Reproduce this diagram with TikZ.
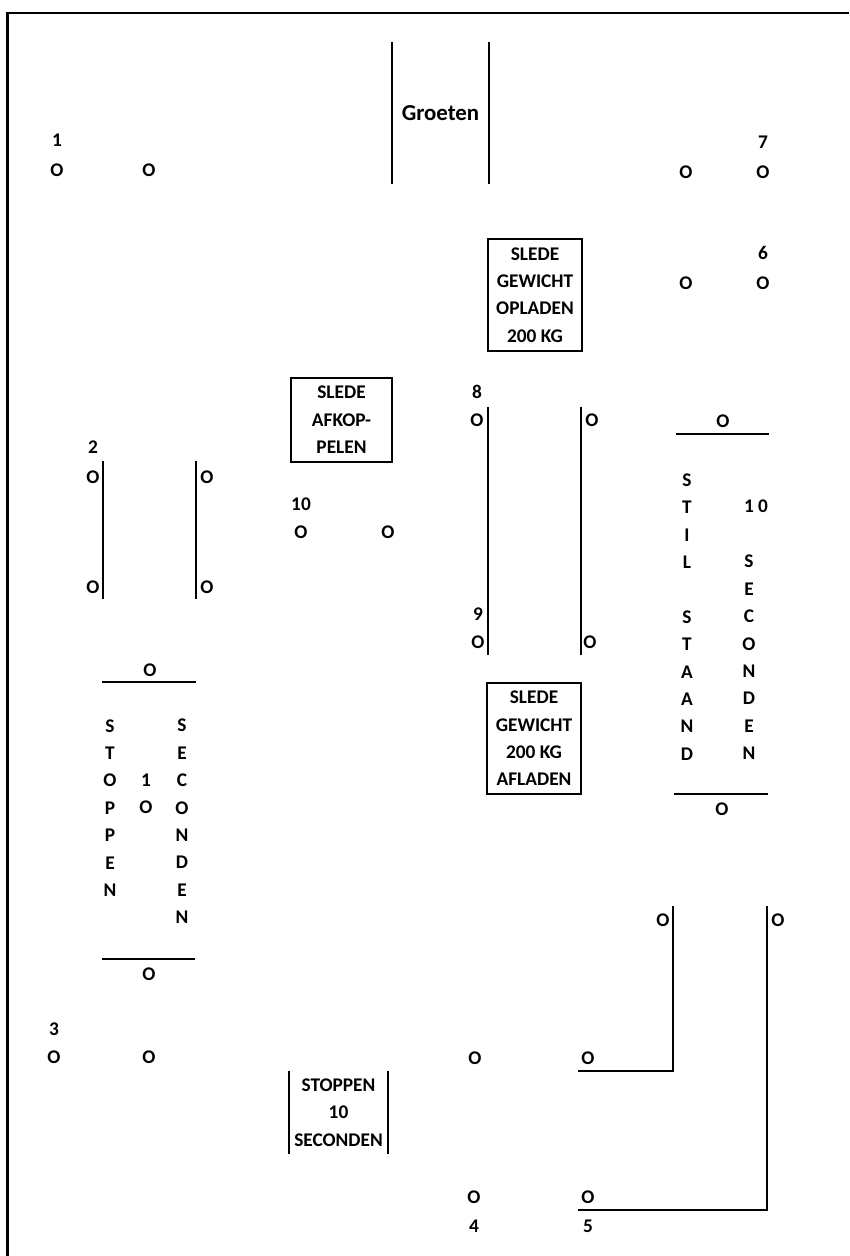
\documentclass[tikz,border=0pt]{standalone}
\usepackage{fontspec}
\setmainfont{Carlito}
\usepackage{tikz}
\usetikzlibrary{positioning}

\begin{document}
\begin{tikzpicture}[
    x=0.02cm, y=-0.02cm,
    node distance=0.32cm,
    lbl/.style={font=\bfseries\fontsize{11}{15.6}\selectfont, inner sep=0pt, align=center},
    boxnode/.style={lbl, draw, line width=1pt, minimum width=1.88cm},
    wall/.style={line width=1pt},
    frame/.style={line width=1.2pt}
]
\useasboundingbox (0,0) rectangle (849,1256);

% Frame
\draw[frame] (7.5,1256) -- (7.5,13) -- (849,13);

% Groeten
\node[lbl, font=\bfseries\fontsize{13}{16}\selectfont, minimum width=1.94cm, minimum height=2.84cm] (groet) at (440.5,113) {Groeten};
\draw[wall] (groet.north west) -- (groet.south west);
\draw[wall] (groet.north east) -- (groet.south east);

% Post 1
\node[lbl] (p1a) at (57,170) {O};
\node[lbl] (p1b) at (149,170) {O};
\node[lbl, above=of p1a] (n1) {1};

% Posts 7 and 6
\node[lbl] (p7a) at (686,172) {O};
\node[lbl] (p7b) at (763,172) {O};
\node[lbl, above=of p7b] (n7) {7};
\node[lbl] (p6a) at (686,283) {O};
\node[lbl] (p6b) at (763,283) {O};
\node[lbl, above=of p6b] (n6) {6};

% Boxes
\node[boxnode, minimum height=2.24cm] (opladen) at (535,295) {SLEDE\\GEWICHT\\OPLADEN\\200 KG};
\node[boxnode, minimum width=2.02cm, minimum height=1.68cm] (afkop) at (341.5,420) {SLEDE\\AFKOP-\\PELEN};
\node[boxnode, minimum height=2.22cm] (afladen) at (534,738.5) {SLEDE\\GEWICHT\\200 KG\\AFLADEN};

% Post 2
\node[lbl] (p2a) at (93,477) {O};
\node[lbl] (p2b) at (93,587) {O};
\node[lbl] (p2c) at (207,477) {O};
\node[lbl] (p2d) at (207,587) {O};
\node[lbl, above=of p2a] (n2) {2};
\draw[wall] (103,461) -- (103,599);
\draw[wall] (196,461) -- (196,599);

% Post 10
\node[lbl] (p10a) at (301,532) {O};
\node[lbl] (p10b) at (388,532) {O};
\node[lbl, above=0.28cm of p10a] (n10) {10};

% Posts 8 and 9
\node[lbl] (p8a) at (477,420) {O};
\node[lbl] (p8b) at (592,420) {O};
\node[lbl, above=0.28cm of p8a] (n8) {8};
\node[lbl] (p9a) at (478,642) {O};
\node[lbl] (p9b) at (590,642) {O};
\node[lbl, above=0.28cm of p9a] (n9) {9};
\draw[wall] (488,407) -- (488,655);
\draw[wall] (581,407) -- (581,655);

% Stilstaand
\node[lbl] (s1) at (723,421) {O};
\draw[wall] (676,434) -- (769,434);
\node[lbl] (stil) at (687,617) {S\\T\\I\\L\\[15.6pt]S\\T\\A\\A\\N\\D};
\node[lbl] (stil10) at (756,506) {1 0};
\node[lbl] (stilsec) at (749,657.5) {S\\E\\C\\O\\N\\D\\E\\N};
\draw[wall] (674,794) -- (768,794);
\node[lbl] (s2) at (722,809) {O};

% Stoppen (left)
\node[lbl] (t1) at (150,670) {O};
\draw[wall] (102,682) -- (196,682);
\node[lbl] (stop) at (110,808) {S\\T\\O\\P\\P\\E\\N};
\node[lbl] (stop10) at (146,794) {1\\O};
\node[lbl] (stopsec) at (182,821.5) {S\\E\\C\\O\\N\\D\\E\\N};
\draw[wall] (102,959) -- (195,959);
\node[lbl] (t2) at (149,974) {O};

% Post 3
\node[lbl] (p3a) at (54,1057) {O};
\node[lbl] (p3b) at (149,1057) {O};
\node[lbl, above=0.28cm of p3a] (n3) {3};

% Stoppen box
\node[lbl, minimum width=1.98cm, minimum height=1.66cm] (stopbox) at (338.5,1112.5) {STOPPEN\\10\\SECONDEN};
\draw[wall] (stopbox.north west) -- (stopbox.south west);
\draw[wall] (stopbox.north east) -- (stopbox.south east);

% Posts 4 and 5
\node[lbl] (p4a) at (475,1058) {O};
\node[lbl] (p5a) at (588,1058) {O};
\node[lbl] (p4b) at (474,1197) {O};
\node[lbl] (p5b) at (588,1197) {O};
\node[lbl, below=of p4b] (n4) {4};
\node[lbl, below=of p5b] (n5) {5};
\node[lbl] (p5c) at (663,920) {O};
\node[lbl] (p5d) at (778,920) {O};
\draw[wall] (578,1071) -- (673,1071) -- (673,906);
\draw[wall] (578,1210) -- (767,1210) -- (767,906);

\end{tikzpicture}
\end{document}
